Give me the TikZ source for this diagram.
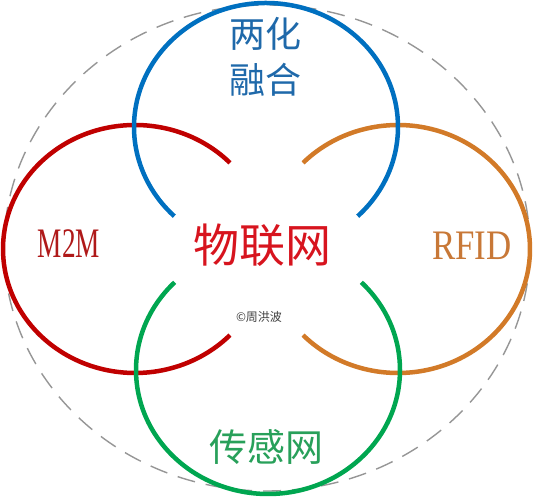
\documentclass[tikz,border=0pt]{standalone}
\usepackage{fontspec}
\setmainfont{Liberation Serif}
\newfontfamily\cjk{Noto Sans CJK SC}
\usepackage{xcolor}
\usepackage{tikz}
\usetikzlibrary{positioning}
\definecolor{iotBlue}{RGB}{0, 112, 192}
\definecolor{iotRed}{RGB}{192, 0, 0}
\definecolor{iotOrange}{RGB}{210, 122, 40}
\definecolor{iotGreen}{RGB}{0, 166, 80}
\definecolor{iotGray}{RGB}{150, 150, 150}
\definecolor{txtBlue}{RGB}{31, 105, 170}
\definecolor{txtRed}{RGB}{215, 20, 30}
\definecolor{txtDark}{RGB}{175, 25, 25}
\definecolor{txtOrange}{RGB}{200, 120, 55}
\definecolor{txtGreen}{RGB}{40, 160, 90}
\tikzset{
    ring/.style={
        line width=4.5pt
    },
    guide/.style={
        draw=iotGray,
        line width=1.4pt,
        dash pattern=on 18pt off 11pt
    },
    base/.style={
        inner sep=0pt,
        align=center
    },
    hanzi/.style={
        base,
        font=\cjk
    },
    latin/.style={
        base,
        font=\fontsize{42pt}{42pt}\selectfont
    }
}

\begin{document}
\begin{tikzpicture}[x=1pt, y=1pt]
  \useasboundingbox (0,0) rectangle (535,497);

  \coordinate (cAll) at (267,249);
  \coordinate (cBlue) at (266,370);
  \coordinate (cRed) at (135,248);
  \coordinate (cOrange) at (398,248);
  \coordinate (cGreen) at (268,127);

  % outer dashed frame
  \draw[guide] (cAll) ellipse [x radius=263, y radius=243];

  % the four open rings
  \draw[ring, iotRed] (cRed) ++(44:132 and 124)
    arc[start angle=44, end angle=316, x radius=132, y radius=124];
  \draw[ring, iotOrange] (cOrange) ++(-136:132 and 124)
    arc[start angle=-136, end angle=136, x radius=132, y radius=124];
  \draw[ring, iotBlue] (cBlue) ++(-46:132 and 124)
    arc[start angle=-46, end angle=226, x radius=132, y radius=124];
  \draw[ring, iotGreen] (cGreen) ++(135:132 and 124)
    arc[start angle=135, end angle=405, x radius=132, y radius=124];

  \node[hanzi, text=txtBlue, font=\cjk\fontsize{36pt}{46pt}\selectfont] (fusion) at (265,440) {两化\\融合};
  \node[hanzi, text=txtRed, font=\cjk\fontsize{46pt}{46pt}\selectfont] (iot) at (262,252) {物联网};
  \node[latin, text=txtDark] (m2m) at (69,253) {\scalebox{0.65}[1]{M2M}};
  \node[latin, text=txtOrange] (rfid) at (472,251) {\scalebox{0.83}[1]{RFID}};
  \node[hanzi, text=txtGreen, font=\cjk\fontsize{38pt}{38pt}\selectfont] (sensor) at (266,50) {传感网};
  \node[hanzi, text=black!75, font=\cjk\fontsize{12pt}{12pt}\selectfont] (credit) at (259,180) {©周洪波};
\end{tikzpicture}
\end{document}
